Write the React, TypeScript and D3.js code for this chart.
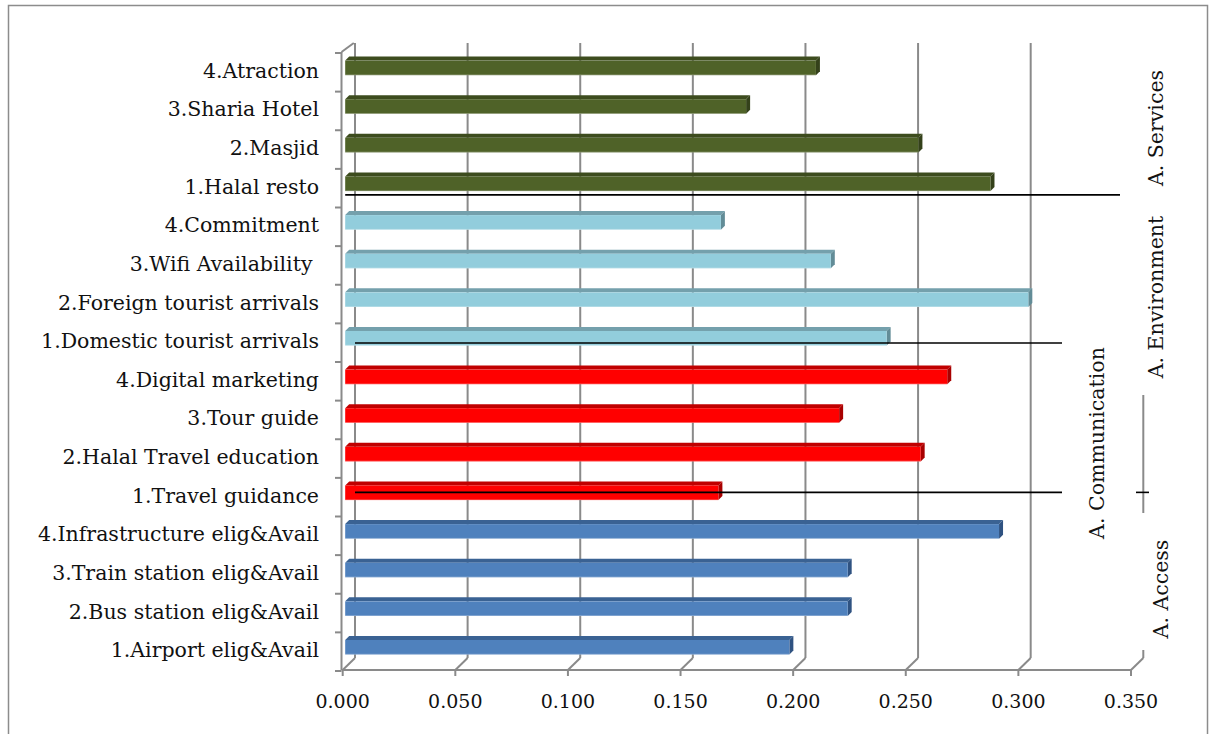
import React from 'react';
import * as d3 from 'd3';

// ---- data (top to bottom, as displayed) ----
const servicesCats = ["4.Atraction", "3.Sharia Hotel", "2.Masjid", "1.Halal resto"];
const servicesVals = [0.209, 0.178, 0.2545, 0.2865];
const environmentCats = ["4.Commitment", "3.Wifi Availability ", "2.Foreign tourist arrivals", "1.Domestic tourist arrivals"];
const environmentVals = [0.1668, 0.2156, 0.3033, 0.2404];
const communicationCats = ["4.Digital marketing", "3.Tour guide", "2.Halal Travel education", "1.Travel guidance"];
const communicationVals = [0.2673, 0.2193, 0.2555, 0.1657];
const accessCats = ["4.Infrastructure elig&Avail", "3.Train station elig&Avail", "2.Bus station elig&Avail", "1.Airport elig&Avail"];
const accessVals = [0.2903, 0.2231, 0.2231, 0.1972];
const groupNames = ["A. Services", "A. Environment", "A. Communication", "A. Access"];
const xTicks = [0, 0.05, 0.1, 0.15, 0.2, 0.25, 0.3, 0.35];

// ---- styles ----
const groupStyle = [
  { front: "#4F6228", top: "#3D4C1E", side: "#34411A" },
  { front: "#92CDDC", top: "#74A0AC", side: "#628C97" },
  { front: "#FF0000", top: "#C00000", side: "#A80000" },
  { front: "#4F81BD", top: "#3A6293", side: "#2F5281" },
];
const groupLabelPos = [
  { x: 1157, y: 128 },
  { x: 1157, y: 297 },
  { x: 1098, y: 443 },
  { x: 1162, y: 589 },
];

const W = 1211, H = 734;
const GRID = "#8a8a8a";
const FONT = "'DejaVu Serif', serif";

export default function App() {
  const groups = [
    { cats: servicesCats, vals: servicesVals },
    { cats: environmentCats, vals: environmentVals },
    { cats: communicationCats, vals: communicationVals },
    { cats: accessCats, vals: accessVals },
  ];
  const allCats = groups.flatMap(g => g.cats);

  const xF = d3.scaleLinear().domain([0, 0.35]).range([342.7, 1131]);
  const y = d3.scaleBand<string>().domain(allCats).range([52, 670]);
  const backDx = 12.3, backDy = -12;
  const yTop = 43, yFloorBack = 658, yFloor = 670;

  const barDx = 2.5, barOff = 8.6, barH = 14.6, d = 4;

  const bars: JSX.Element[] = [];
  groups.forEach((g, gi) => {
    const st = groupStyle[gi];
    g.cats.forEach((c, i) => {
      const v = g.vals[i];
      const x0 = xF(0) + barDx, x1 = xF(v) + barDx;
      const y0 = (y(c) as number) + barOff;
      const topPts = `${x0},${y0} ${x0 + d},${y0 - d} ${x1 + d},${y0 - d} ${x1},${y0}`;
      const sidePts = `${x1},${y0} ${x1 + d},${y0 - d} ${x1 + d},${y0 + barH - d} ${x1},${y0 + barH}`;
      bars.push(
        <g key={c}>
          <polygon points={topPts} fill={st.top} />
          <polygon points={sidePts} fill={st.side} />
          <rect x={x0} y={y0} width={x1 - x0} height={barH} fill={st.front} />
          <line x1={x0} x2={x1} y1={y0 + barH - 0.3} y2={y0 + barH - 0.3} stroke="#ffffff" strokeOpacity={0.35} strokeWidth={0.8} />
        </g>
      );
    });
  });

  const bw = y.bandwidth();
  const line1Y = (y("1.Halal resto") as number) + 27;
  const line2Y = (y("1.Domestic tourist arrivals") as number) + 20.6;
  const line3Y = (y("1.Travel guidance") as number) + 15.5;

  return (
    <svg width={W} height={H} style={{ position: 'absolute', left: 0, top: 0, background: '#fff' }}>
      <rect x={8.5} y={5.5} width={1199} height={740} fill="#fff" stroke="#8c8c8c" strokeWidth={1.5} />

      {/* back gridlines with floor diagonals */}
      {xTicks.map((t, i) => {
        const xb = xF(t) + backDx;
        const xf = xF(t);
        const last = i === xTicks.length - 1;
        return (
          <g key={t}>
            {!last && <line x1={xb} x2={xb} y1={yTop} y2={yFloorBack} stroke={GRID} strokeWidth={2} />}
            {last && <line x1={xb} x2={xb} y1={650} y2={yFloorBack} stroke={GRID} strokeWidth={2} />}
            <polyline points={`${xb},${yFloorBack} ${xf},${yFloor}`} fill="none" stroke={GRID} strokeWidth={2} />
            <line x1={xf} x2={xf} y1={yFloor} y2={yFloor + 6} stroke={GRID} strokeWidth={2} />
            <text x={xf} y={708} textAnchor="middle" fontFamily={FONT} fontSize={19} fill="#111">{d3.format(".3f")(t)}</text>
          </g>
        );
      })}
      {/* right wall fragment */}
      <line x1={xF(0.35) + backDx} x2={xF(0.35) + backDx} y1={395} y2={513} stroke={GRID} strokeWidth={2} />
      {/* floor front line */}
      <line x1={xF(0) - 1} x2={xF(0.35)} y1={yFloor} y2={yFloor} stroke={GRID} strokeWidth={2} />
      {/* left wall */}
      <line x1={341.5} x2={341.5} y1={52} y2={yFloor} stroke={GRID} strokeWidth={2} />
      <line x1={341.5} x2={341.5 + backDx} y1={52} y2={yTop} stroke={GRID} strokeWidth={2} />
      {[...allCats.map(c => y(c) as number), 670].map((yy, i) => (
        <line key={i} x1={335} x2={341.5} y1={yy + 1} y2={yy + 1} stroke={GRID} strokeWidth={2} />
      ))}

      {bars}

      {/* category labels */}
      {allCats.map(c => (
        <text key={c} x={319} y={(y(c) as number) + bw / 2 + 1} textAnchor="end" dominantBaseline="middle"
          fontFamily={FONT} fontSize={20.5} fill="#111" style={{ whiteSpace: 'pre' }}>{c}</text>
      ))}

      {/* group separator lines */}
      <line x1={xF(0) + barDx} x2={1120} y1={line1Y} y2={line1Y} stroke="#000" strokeWidth={1.6} />
      <line x1={xF(0) + backDx} x2={1062} y1={line2Y} y2={line2Y} stroke="#000" strokeWidth={1.6} />
      <line x1={xF(0) + backDx} x2={1062} y1={line3Y} y2={line3Y} stroke="#000" strokeWidth={1.6} />
      <line x1={1136} x2={1149} y1={line3Y} y2={line3Y} stroke="#000" strokeWidth={1.6} />

      {/* group labels */}
      {groupNames.map((n, i) => (
        <text key={n} transform={`translate(${groupLabelPos[i].x},${groupLabelPos[i].y}) rotate(-90)`}
          textAnchor="middle" dominantBaseline="middle" fontFamily={FONT} fontSize={20.5} fill="#111">{n}</text>
      ))}
    </svg>
  );
}
